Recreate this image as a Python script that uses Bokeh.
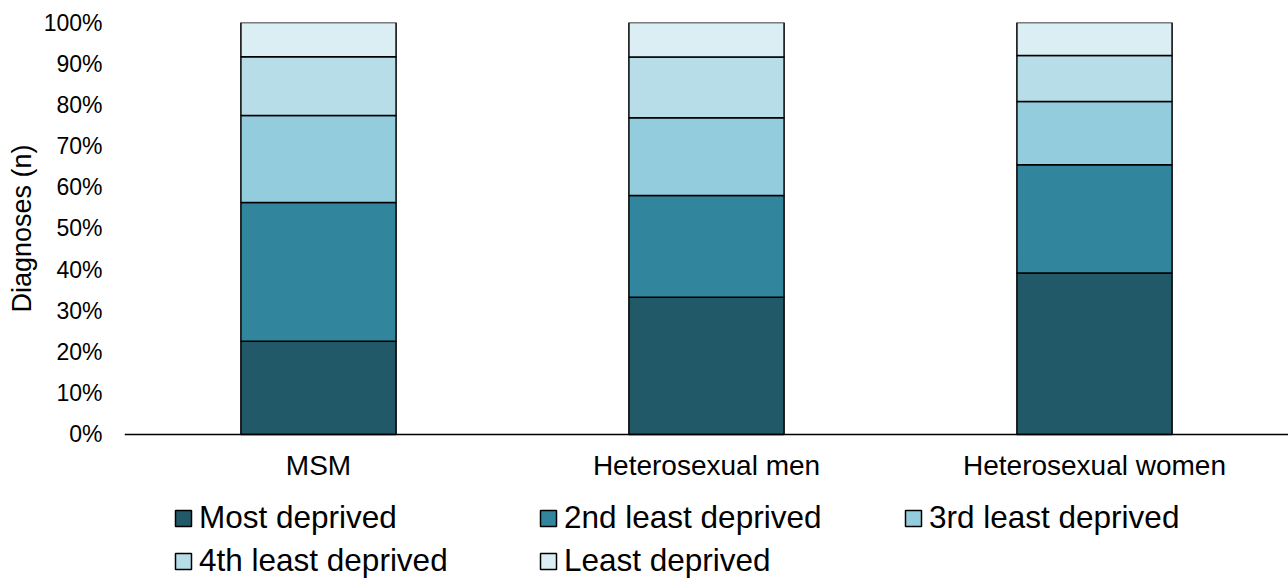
from bokeh.plotting import figure
from bokeh.models import (FactorRange, Range1d, Legend, LegendItem, FixedTicker,
                          ColumnDataSource, Title)
from bokeh.embed import file_html
from bokeh.resources import INLINE

groups = ["MSM", "Heterosexual men", "Heterosexual women"]
series_labels = ["Most deprived", "2nd least deprived", "3rd least deprived",
                 "4th least deprived", "Least deprived"]
most_deprived = [22.6, 33.3, 39.2]
second_least = [33.7, 24.7, 26.3]
third_least = [21.1, 18.9, 15.3]
fourth_least = [14.3, 14.7, 11.2]
least_deprived = [8.3, 8.4, 8.0]
colors = ["#215968", "#31859C", "#93CDDD", "#B7DEE8", "#DBEEF4"]
y_ticks = [0, 10, 20, 30, 40, 50, 60, 70, 80, 90, 100]

keys = ["s1", "s2", "s3", "s4", "s5"]
source = ColumnDataSource(dict(group=groups, s1=most_deprived, s2=second_least,
                               s3=third_least, s4=fourth_least, s5=least_deprived))

FONT = "Liberation Sans"

# the plotting area extends below 0 so that the legend can sit under the x axis
p = figure(x_range=FactorRange(*groups, range_padding=0), y_range=Range1d(-35.2, 100),
           width=1288, height=579, output_backend="svg", toolbar_location=None,
           min_border_left=124, min_border_right=0, min_border_top=22,
           min_border_bottom=0)
p.x_range.range_padding = 0

renderers = p.vbar_stack(keys, x="group", width=0.4, color=colors, line_color="black",
                         line_width=1.5, source=source)

p.outline_line_color = None
p.xgrid.grid_line_color = None
p.ygrid.grid_line_color = None

# y axis
p.yaxis.ticker = FixedTicker(ticks=y_ticks)
p.yaxis.major_label_overrides = {t: f"{t}%" for t in y_ticks}
p.yaxis.axis_line_color = None
p.yaxis.major_tick_line_color = None
p.yaxis.minor_tick_line_color = None
p.yaxis.major_tick_out = 0
p.yaxis.major_tick_in = 0
p.yaxis.major_label_standoff = 22
p.yaxis.major_label_text_font = FONT
p.yaxis.major_label_text_font_size = "23px"
p.yaxis.major_label_text_color = "black"

ytitle = Title(text="Diagnoses (n)", align="left", offset=267, standoff=7,
               text_font=FONT, text_font_size="27px", text_font_style="normal",
               text_color="black")
p.add_layout(ytitle, "left")

# x axis drawn at y = 0
p.xaxis.fixed_location = 0
p.xaxis.axis_line_color = "black"
p.xaxis.axis_line_width = 1.5
p.xaxis.major_tick_line_color = None
p.xaxis.minor_tick_line_color = None
p.xaxis.major_tick_out = 0
p.xaxis.major_tick_in = 0
p.xaxis.major_label_standoff = 16
p.xaxis.major_label_text_font = FONT
p.xaxis.major_label_text_font_size = "28px"
p.xaxis.major_label_text_color = "black"

# legend: column-major order so that rows read left to right
order = [0, 3, 1, 4, 2]
items = [LegendItem(label=series_labels[i], renderers=[renderers[i]]) for i in order]
legend = Legend(items=items, orientation="vertical", nrows=2,
                location=(49, 0), margin=0, padding=0,
                border_line_color=None, background_fill_alpha=0,
                glyph_width=20, glyph_height=20, label_standoff=6,
                label_width=333, label_height=35, spacing=6,
                label_text_font=FONT, label_text_font_size="31.5px",
                label_text_color="black")
p.add_layout(legend, "center")

open("out.html", "w").write(file_html(p, INLINE))
